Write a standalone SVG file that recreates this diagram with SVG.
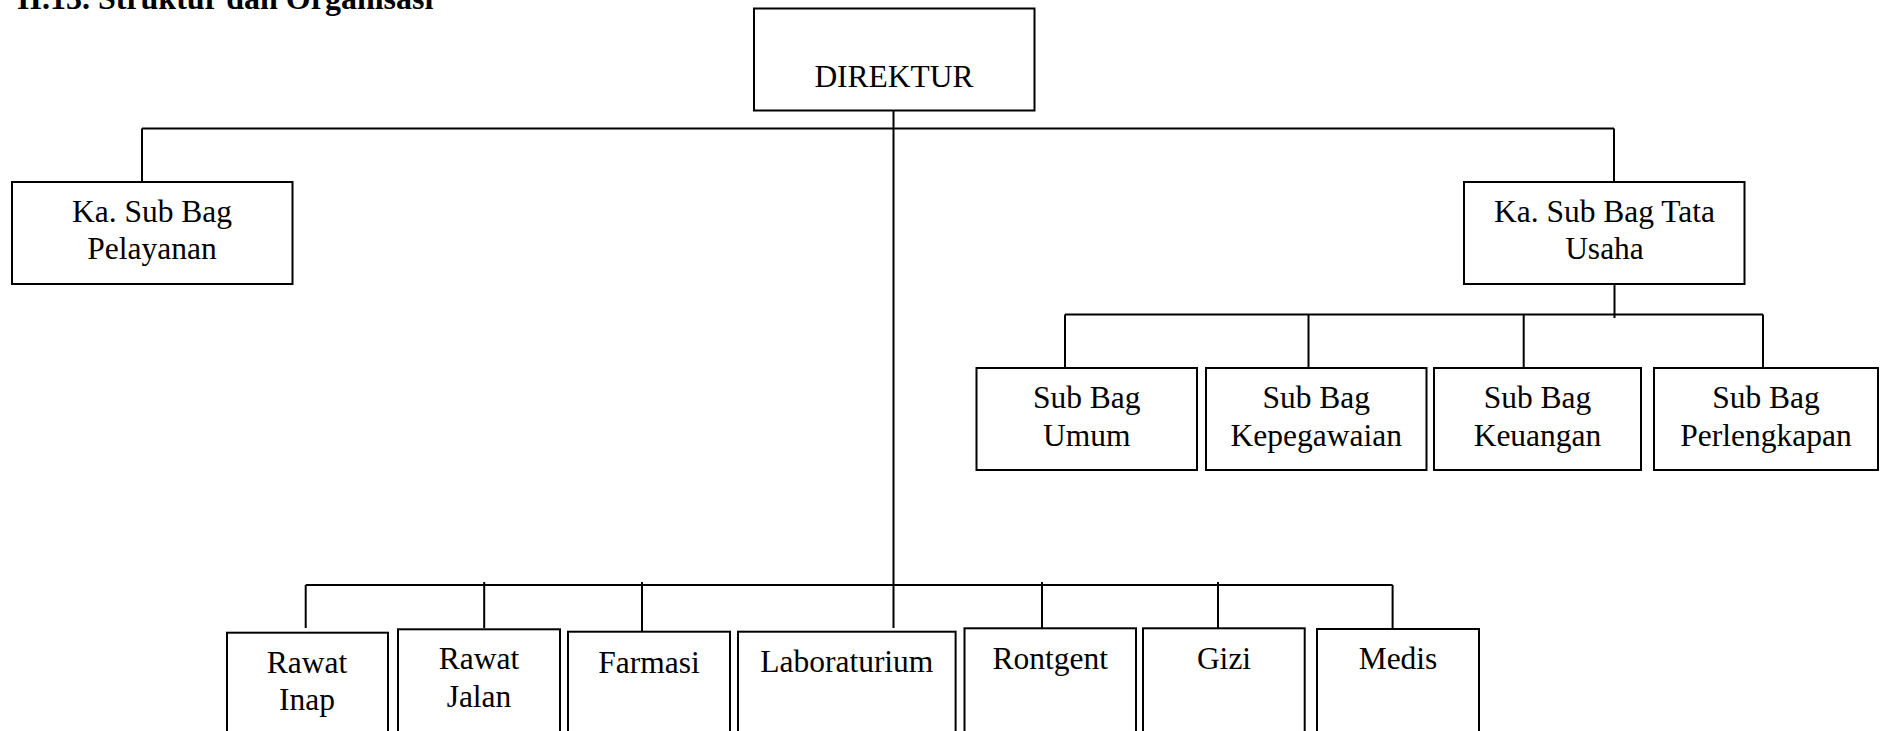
<svg xmlns="http://www.w3.org/2000/svg" width="1890" height="731" viewBox="0 0 1890 731">
<style>
.bg{fill:#ffffff}
.box{fill:#ffffff;stroke:#000000;stroke-width:2}
.ln{fill:none;stroke:#000000;stroke-width:2}
.t{font-family:"Liberation Serif","Times New Roman",serif;font-size:31.5px;fill:#000000;text-anchor:middle}
.title{font-family:"Liberation Serif","Times New Roman",serif;font-size:32px;font-weight:bold;fill:#000000}
</style>
<rect class="bg" x="0" y="0" width="1890" height="731"/>
<text class="title" x="17" y="8.5">II.13. Struktur dan Organisasi</text>
<g id="connectors">
<path class="ln" d="M893.5 107 V628"/>
<path class="ln" d="M142 128.5 H1614 M142 128.5 V181 M1614 128.5 V181"/>
<path class="ln" d="M1614.5 284 V318 M1065 314.5 H1763 M1065 314.5 V367 M1308.5 314.5 V367 M1523.7 314.5 V367 M1763 314.5 V367"/>
<path class="ln" d="M305.7 585 H1392.6 M305.7 585 V628 M484.2 582 V628 M642 582 V632 M1042 582 V628 M1218 582 V628 M1392.6 585 V629"/>
</g>
<g id="n-direktur"><rect class="box" x="754" y="8.5" width="280.5" height="102"/><text class="t" x="894" y="87.3">DIREKTUR</text></g>
<g id="n-pelayanan"><rect class="box" x="12" y="182" width="280.5" height="102"/><text class="t" x="152" y="222">Ka. Sub Bag</text><text class="t" x="152" y="259">Pelayanan</text></g>
<g id="n-tatausaha"><rect class="box" x="1464" y="182" width="280.5" height="102"/><text class="t" x="1604.5" y="222">Ka. Sub Bag Tata</text><text class="t" x="1604.5" y="259">Usaha</text></g>
<g id="n-umum"><rect class="box" x="976.5" y="368" width="220.5" height="102"/><text class="t" x="1086.7" y="407.7">Sub Bag</text><text class="t" x="1086.7" y="445.7">Umum</text></g>
<g id="n-kepegawaian"><rect class="box" x="1206" y="368" width="220.5" height="102"/><text class="t" x="1316.2" y="407.7">Sub Bag</text><text class="t" x="1316.2" y="445.7">Kepegawaian</text></g>
<g id="n-keuangan"><rect class="box" x="1434" y="368" width="207" height="102"/><text class="t" x="1537.5" y="407.7">Sub Bag</text><text class="t" x="1537.5" y="445.7">Keuangan</text></g>
<g id="n-perlengkapan"><rect class="box" x="1654" y="368" width="224" height="102"/><text class="t" x="1766" y="407.7">Sub Bag</text><text class="t" x="1766" y="445.7">Perlengkapan</text></g>
<g id="n-rawatinap"><rect class="box" x="227" y="632.7" width="161" height="110"/><text class="t" x="307" y="673.3">Rawat</text><text class="t" x="307" y="710">Inap</text></g>
<g id="n-rawatjalan"><rect class="box" x="398" y="629.3" width="162" height="110"/><text class="t" x="479" y="669.3">Rawat</text><text class="t" x="479" y="706.7">Jalan</text></g>
<g id="n-farmasi"><rect class="box" x="568" y="631.7" width="162" height="110"/><text class="t" x="649" y="672.7">Farmasi</text></g>
<g id="n-lab"><rect class="box" x="738" y="631.7" width="217.6" height="110"/><text class="t" x="846.8" y="671.7">Laboraturium</text></g>
<g id="n-rontgent"><rect class="box" x="964.5" y="628.3" width="171.5" height="110"/><text class="t" x="1050.3" y="669.3">Rontgent</text></g>
<g id="n-gizi"><rect class="box" x="1143" y="628.3" width="161.7" height="110"/><text class="t" x="1224" y="669.3">Gizi</text></g>
<g id="n-medis"><rect class="box" x="1317" y="629" width="162" height="110"/><text class="t" x="1398" y="669.3">Medis</text></g>
</svg>
